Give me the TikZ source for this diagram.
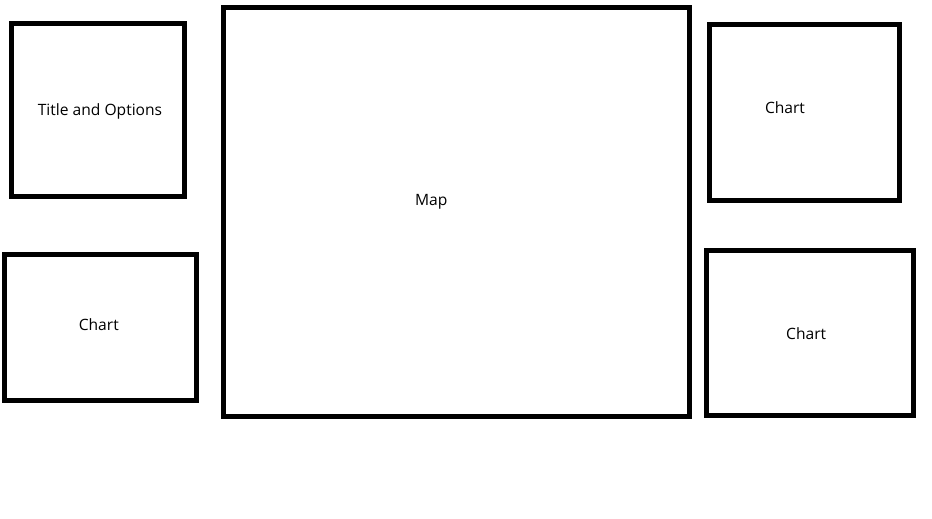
\documentclass[tikz,border=0pt]{standalone}
\usepackage{fontspec}
\setmainfont{Open Sans}
\usetikzlibrary{positioning}

\begin{document}
\begin{tikzpicture}[
  x=1pt, y=-1pt,
  font=\fontsize{15.6}{18}\selectfont,
  pane/.style={draw=black, line width=5pt, inner sep=0pt, rectangle},
  caption/.style={text=black, anchor=base, inner sep=0pt}
]
\useasboundingbox (0,0) rectangle (932,519);
% panes of the layout
\node[pane, minimum width=173pt,   minimum height=173pt]   (title)   at (98,110)    {};
\node[pane, minimum width=191.7pt, minimum height=145.4pt] (chartl)  at (100.6,327.5) {};
\node[pane, minimum width=465.7pt, minimum height=409.3pt] (map)     at (456.4,212.2) {};
\node[pane, minimum width=189.4pt, minimum height=176pt]   (charttr) at (804.5,112.8) {};
\node[pane, minimum width=207pt,   minimum height=164.4pt] (chartbr) at (810,333)    {};
% labels
\node[caption] (titletext)   at (100,115)   {Title and Options};
\node[caption] (chartltext)  at (98.8,330.7) {Chart};
\node[caption] (maptext)     at (431.3,205) {Map};
\node[caption] (charttrtext) at (785,113.3) {Chart};
\node[caption] (chartbrtext) at (806.2,339) {Chart};
\end{tikzpicture}
\end{document}
